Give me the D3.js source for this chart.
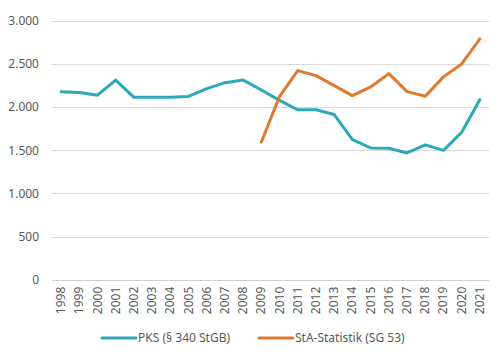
<!DOCTYPE html>
<html>
<head>
<meta charset="utf-8">
<script src="https://cdn.jsdelivr.net/npm/d3@7"></script>
<style>
	body { margin: 0; background: #fff; }
	svg text { font-family: "Noto Sans", sans-serif; fill: #595959; }
</style>
</head>
<body>
<div id="chart"></div>
<script>
const years = ["1998","1999","2000","2001","2002","2003","2004","2005","2006","2007","2008","2009",
	"2010","2011","2012","2013","2014","2015","2016","2017","2018","2019","2020","2021"];
const pks = [2180,2170,2140,2315,2115,2115,2115,2125,2215,2285,2315,2200,
	2080,1970,1970,1915,1625,1528,1525,1470,1563,1500,1710,2090];
const sta = [null,null,null,null,null,null,null,null,null,null,null,1597,
	2127,2425,2367,2251,2135,2235,2390,2181,2127,2352,2502,2793];
const yTicks = [0, 500, 1000, 1500, 2000, 2500, 3000];
const seriesNames = ["PKS (§ 340 StGB)", "StA-Statistik (SG 53)"];
const seriesColors = ["#2ca8b9", "#de7a2f"];

const width = 500, height = 352;
const margin = {top: 21, left: 52, right: 11, bottom: 72};

const svg = d3.select("#chart")
	.append("svg")
	.attr("width", width)
	.attr("height", height);

const x = d3.scaleBand()
	.domain(years)
	.range([margin.left, width - margin.right]);

const y = d3.scaleLinear()
	.domain([0, 3000])
	.range([height - margin.bottom - 0.3, margin.top]);

const fmt = d3.format(",");
const deFmt = v => fmt(v).replace(/,/g, ".");

// gridlines
svg.append("g")
	.selectAll("line")
	.data(yTicks)
	.enter()
	.append("line")
	.attr("x1", margin.left)
	.attr("x2", width - margin.right)
	.attr("y1", d => Math.round(y(d)) + 0.5)
	.attr("y2", d => Math.round(y(d)) + 0.5)
	.attr("stroke", d => d === 0 ? "#d0d0d0" : "#d9d9d9")
	.attr("stroke-width", 1);

// y labels
svg.append("g")
	.selectAll("text")
	.data(yTicks)
	.enter()
	.append("text")
	.attr("x", 39)
	.attr("y", d => y(d))
	.attr("dy", "0.35em")
	.attr("text-anchor", "end")
	.style("font-size", "12px")
	.text(d => deFmt(d));

// x labels
svg.append("g")
	.selectAll("text")
	.data(years)
	.enter()
	.append("text")
	.attr("transform", d => `translate(${x(d) + x.bandwidth() / 2 + 4},${y(0) + 7}) rotate(-90)`)
	.attr("text-anchor", "end")
	.style("font-size", "12px")
	.text(d => d);

const line = d3.line()
	.defined(d => d.v !== null)
	.x(d => x(d.year) + x.bandwidth() / 2)
	.y(d => y(d.v));

[pks, sta].forEach((vals, i) => {
	const pts = years.map((yr, j) => ({year: yr, v: vals[j]}));
	svg.append("path")
		.datum(pts)
		.attr("fill", "none")
		.attr("stroke", seriesColors[i])
		.attr("stroke-width", 3)
		.attr("stroke-linejoin", "round")
		.attr("stroke-linecap", "round")
		.attr("d", line);
});

// legend
const legendX = [102, 259];
const legend = svg.append("g");
seriesNames.forEach((name, i) => {
	legend.append("line")
		.attr("x1", legendX[i])
		.attr("x2", legendX[i] + 34)
		.attr("y1", 338)
		.attr("y2", 338)
		.attr("stroke", seriesColors[i])
		.attr("stroke-width", 3)
		.attr("stroke-linecap", "round");
	legend.append("text")
		.attr("x", legendX[i] + 36)
		.attr("y", 338)
		.attr("dy", "0.35em")
		.style("font-size", "12px")
		.text(name);
});
</script>
</body>
</html>
